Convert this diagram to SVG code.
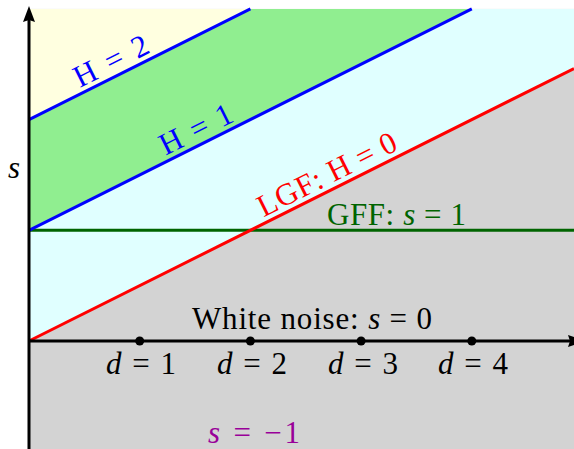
<svg xmlns="http://www.w3.org/2000/svg" width="574" height="449" viewBox="0 0 574 449">
<style>
text{font-family:"Liberation Serif","Times New Roman",serif;font-size:31px}
.i{font-style:italic}
.ln{fill:none;stroke-width:3;stroke-linecap:butt}
</style>
<rect width="574" height="449" fill="#ffffff"/>
<g id="regions">
<rect x="29" y="8.9" width="545" height="441" fill="#d3d3d3"/>
<polygon points="29,8.9 574,8.9 574,68.5 29,341" fill="#e0ffff"/>
<polygon points="29,8.9 471.8,8.9 29,230.3" fill="#90ee90"/>
<polygon points="29,8.9 250.4,8.9 29,119.6" fill="#ffffe0"/>
</g>
<g id="connectors">
<line class="ln" x1="29" y1="230.3" x2="574" y2="230.3" stroke="#006400"/>
<line class="ln" x1="29" y1="341" x2="574" y2="68.5" stroke="#ff0000"/>
<line class="ln" x1="29" y1="230.3" x2="471.8" y2="8.9" stroke="#0000ff"/>
<line class="ln" x1="29" y1="119.6" x2="250.4" y2="8.9" stroke="#0000ff"/>
<line class="ln" x1="29" y1="341" x2="570" y2="341" stroke="#000000"/>
<line class="ln" x1="29" y1="449" x2="29" y2="20" stroke="#000000"/>
<path d="M29,6 L35,22 L29,20 L23,22 Z" fill="#000000"/>
<path d="M585,341 L568,335 L570,341 L568,347 Z" fill="#000000"/>
</g>
<g id="ticks" fill="#000000">
<circle cx="139.7" cy="341" r="4.5"/>
<circle cx="250.4" cy="341" r="4.5"/>
<circle cx="361.1" cy="341" r="4.5"/>
<circle cx="471.8" cy="341" r="4.5"/>
</g>
<g id="labels">
<text id="s-axis" class="i" x="8" y="178">s</text>
<text id="h2" fill="#0000ff" text-anchor="middle" textLength="80" transform="translate(115.5,70) rotate(-26.565)">H = 2</text>
<text id="h1" fill="#0000ff" text-anchor="middle" textLength="78" transform="translate(200.5,138.2) rotate(-26.565)">H = 1</text>
<text id="lgf" fill="#ff0000" text-anchor="middle" textLength="152" transform="translate(331.5,183.4) rotate(-26.565)">LGF: H = 0</text>
<text id="gff" fill="#006400" x="327" y="225" textLength="139">GFF: <tspan class="i">s</tspan> = 1</text>
<text id="white" fill="#000000" x="192" y="329" textLength="240">White noise: <tspan class="i">s</tspan> = 0</text>
<text id="d1" x="106" y="374" textLength="70"><tspan class="i">d</tspan> = 1</text>
<text id="d2" x="217" y="374" textLength="70"><tspan class="i">d</tspan> = 2</text>
<text id="d3" x="328" y="374" textLength="70"><tspan class="i">d</tspan> = 3</text>
<text id="d4" x="438" y="374" textLength="70"><tspan class="i">d</tspan> = 4</text>
<text id="sm1" fill="#990099" x="208" y="443" textLength="92"><tspan class="i">s</tspan> = −1</text>
</g>
</svg>
